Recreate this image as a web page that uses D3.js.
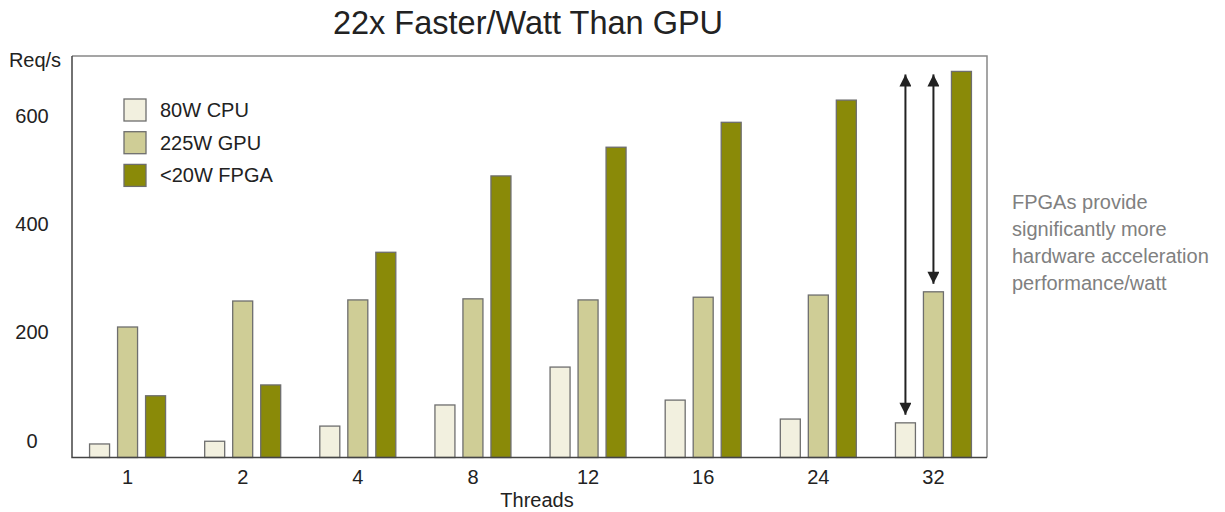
<!DOCTYPE html>
<html>
<head>
<meta charset="utf-8">
<script src="https://cdn.jsdelivr.net/npm/d3@7"></script>
<style>
  body { margin: 0; background: #fff; }
  text { font-family: "Liberation Sans", Arial, sans-serif; }
</style>
</head>
<body>
<div id="chart"></div>
<script>
// data
const threads = ["1", "2", "4", "8", "12", "16", "24", "32"];
const cpu80W  = [25, 30, 58, 97, 167, 106, 71, 64];
const gpu225W = [241, 289, 291, 293, 291, 296, 300, 306];
const fpga20W = [114, 134, 379, 520, 573, 619, 660, 713];
const seriesNames = ["80W CPU", "225W GPU", "<20W FPGA"];
const seriesColors = ["#f2f0df", "#cfcd96", "#8a8a08"];
const yTicks = [0, 200, 400, 600];
const note = ["FPGAs provide", "significantly more", "hardware acceleration", "performance/watt"];

const rows = threads.map((t, i) => ({ t, vals: [cpu80W[i], gpu225W[i], fpga20W[i]] }));

const width = 1225, height = 512;
const frame = { left: 72, right: 987, top: 56, bottom: 457.5 };

const svg = d3.select("#chart").append("svg")
  .attr("width", width)
  .attr("height", height);

const x = d3.scaleBand().domain(threads).range([70, 991]);
const xInner = d3.scaleBand().domain(seriesNames)
  .range([x.bandwidth() / 2 - 38, x.bandwidth() / 2 + 38])
  .paddingInner(0.286);
const y = d3.scaleLinear().domain([0, 200]).range([frame.bottom, frame.bottom - 108.3]);

// title
svg.append("text")
  .attr("x", 528).attr("y", 34)
  .attr("text-anchor", "middle")
  .attr("font-size", 32.5)
  .attr("fill", "#222")
  .text("22x Faster/Watt Than GPU");

// frame (top + right lighter)
svg.append("path")
  .attr("d", `M${frame.left},${frame.top}H${frame.right}V${frame.bottom}`)
  .attr("fill", "none").attr("stroke", "#888").attr("stroke-width", 1.5);

// bars
const groups = svg.selectAll("g.grp")
  .data(rows)
  .enter().append("g")
  .attr("class", "grp")
  .attr("transform", d => `translate(${x(d.t)},0)`);

groups.selectAll("rect")
  .data(d => d.vals.map((v, k) => ({ v, k })))
  .enter().append("rect")
  .attr("x", d => xInner(seriesNames[d.k]))
  .attr("width", xInner.bandwidth())
  .attr("y", d => y(d.v))
  .attr("height", d => y(0) - y(d.v))
  .attr("fill", d => seriesColors[d.k])
  .attr("stroke", "#6e6e6e")
  .attr("stroke-width", 1.3);

// axes lines
svg.append("path")
  .attr("d", `M${frame.left},${frame.top}V${frame.bottom}H${frame.right}`)
  .attr("fill", "none").attr("stroke", "#444").attr("stroke-width", 1.5);

// y tick labels (sit a little above their value, as in the original)
const yAxis = svg.append("g")
  .attr("transform", "translate(32,0)")
  .call(d3.axisLeft(y).tickValues(yTicks).tickSize(0).tickPadding(0));
yAxis.select(".domain").remove();
yAxis.selectAll("text")
  .attr("text-anchor", "middle")
  .attr("dy", "-0.52em")
  .attr("font-size", 20)
  .attr("font-family", "Liberation Sans, Arial, sans-serif")
  .attr("fill", "#222");

svg.append("text")
  .attr("x", 35).attr("y", 67)
  .attr("text-anchor", "middle")
  .attr("font-size", 20).attr("fill", "#222")
  .text("Req/s");

// x tick labels
const xAxis = svg.append("g")
  .attr("transform", `translate(0,${frame.bottom})`)
  .call(d3.axisBottom(x).tickSize(0).tickPadding(12));
xAxis.select(".domain").remove();
xAxis.selectAll("text")
  .attr("font-size", 20)
  .attr("font-family", "Liberation Sans, Arial, sans-serif")
  .attr("fill", "#222");

svg.append("text")
  .attr("x", 537).attr("y", 507)
  .attr("text-anchor", "middle")
  .attr("font-size", 20).attr("fill", "#222")
  .text("Threads");

// legend
const legend = svg.selectAll("g.leg")
  .data(seriesNames)
  .enter().append("g")
  .attr("class", "leg")
  .attr("transform", (d, i) => `translate(124,${99 + i * 32.7})`);
legend.append("rect")
  .attr("width", 22).attr("height", 22)
  .attr("fill", (d, i) => seriesColors[i])
  .attr("stroke", "#6e6e6e").attr("stroke-width", 1.3);
legend.append("text")
  .attr("x", 36).attr("y", 18)
  .attr("font-size", 20).attr("fill", "#222")
  .text(d => d);

// double arrows over the last group
const defs = svg.append("defs");
["a-end", "a-start"].forEach((id, i) => {
  defs.append("marker")
    .attr("id", id)
    .attr("viewBox", "0 0 10 10")
    .attr("refX", 10).attr("refY", 5)
    .attr("markerWidth", 15).attr("markerHeight", 12)
    .attr("markerUnits", "userSpaceOnUse")
    .attr("orient", i === 0 ? "auto" : "auto-start-reverse")
    .append("path").attr("d", "M0,0L10,5L0,10Z").attr("fill", "#222");
});
const last = rows[rows.length - 1];
[0, 1].forEach(k => {
  const cx = x(last.t) + xInner(seriesNames[k]) + xInner.bandwidth() / 2;
  svg.append("line")
    .attr("x1", cx).attr("x2", cx)
    .attr("y1", y(last.vals[2]) + 3)
    .attr("y2", y(last.vals[k]) - 8)
    .attr("stroke", "#222").attr("stroke-width", 2)
    .attr("marker-start", "url(#a-start)")
    .attr("marker-end", "url(#a-end)");
});

// side note
svg.append("text")
  .attr("x", 1012).attr("y", 209)
  .attr("font-size", 20).attr("fill", "#808080")
  .selectAll("tspan")
  .data(note)
  .enter().append("tspan")
  .attr("x", 1012)
  .attr("dy", (d, i) => i === 0 ? 0 : 27)
  .text(d => d);
</script>
</body>
</html>
